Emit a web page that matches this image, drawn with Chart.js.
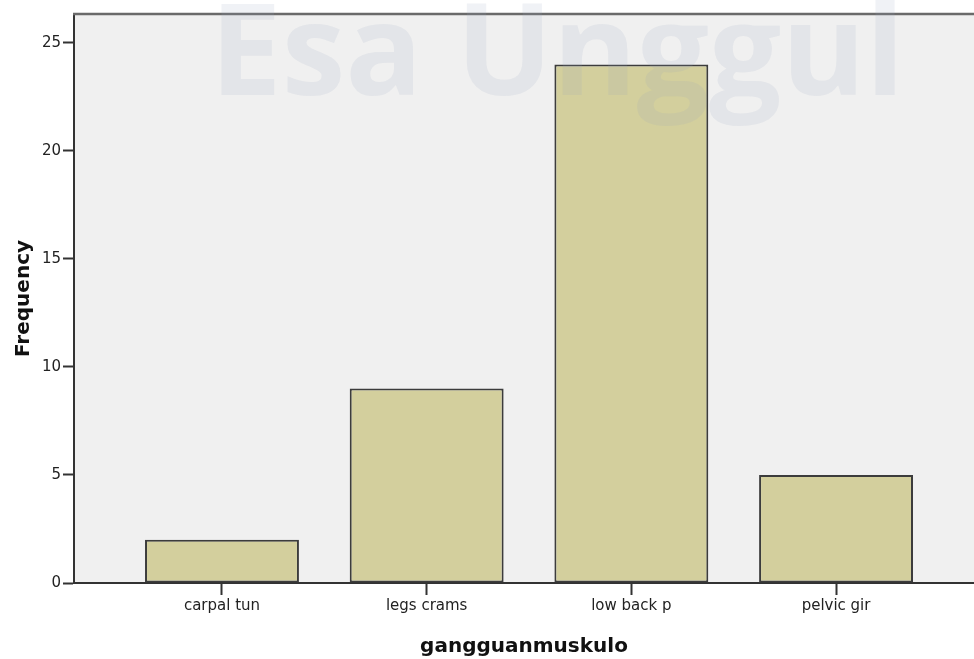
<!DOCTYPE html>
<html>
<head>
<meta charset="utf-8">
<script src="https://cdn.jsdelivr.net/npm/chart.js@4/dist/chart.umd.min.js"></script>
<style>
  html, body { margin: 0; padding: 0; background: #fff; }
  #wrap { width: 974px; height: 659px; }
</style>
</head>
<body>
<div id="wrap"><canvas id="chart" width="974" height="659"></canvas></div>
<script>
const categories = ["carpal tun", "legs crams", "low back p", "pelvic gir"];
const frequencies = [2, 9, 24, 5];
const yTicks = [0, 5, 10, 15, 20, 25];
const xTitle = "gangguanmuskulo";
const yTitle = "Frequency";
const watermark = "Esa Unggul";

const tickFont = { family: "'DejaVu Sans', sans-serif", size: 15 };
const titleFont = { family: "'DejaVu Sans', sans-serif", size: 20, weight: "bold", lineHeight: 1.2 };

const plotBackground = {
  id: "plotBackground",
  beforeDraw(chart) {
    const { ctx, chartArea } = chart;
    ctx.save();
    ctx.fillStyle = "#ffffff";
    ctx.fillRect(0, 0, chart.width, chart.height);
    ctx.fillStyle = "#f0f0f0";
    ctx.fillRect(chartArea.left, chartArea.top, chartArea.right - chartArea.left, chartArea.bottom - chartArea.top);
    ctx.restore();
  },
  afterDraw(chart) {
    const { ctx, chartArea } = chart;
    ctx.save();
    // frame line on top of the plot
    ctx.strokeStyle = "#6a6a6a";
    ctx.lineWidth = 2.5;
    ctx.beginPath();
    ctx.moveTo(chartArea.left - 1, chartArea.top);
    ctx.lineTo(chartArea.right, chartArea.top);
    ctx.stroke();
    // faint page watermark
    ctx.fillStyle = "rgba(150, 165, 190, 0.14)";
    ctx.font = "bold 128px 'Open Sans', sans-serif";
    ctx.textBaseline = "alphabetic";
    ctx.textAlign = "left";
    ctx.fillText(watermark, 210, 95, 703);
    ctx.restore();
  },
};

new Chart(document.getElementById("chart"), {
  type: "bar",
  data: {
    datasets: [{
      label: yTitle,
      data: categories.map((name, i) => ({ x: i + 1, y: frequencies[i] })),
      backgroundColor: "#d3cf9d",
      borderColor: "#3c3c3c",
      borderWidth: 2,
      borderSkipped: false,
      categoryPercentage: 1,
      barPercentage: 0.752,
    }],
  },
  options: {
    responsive: false,
    animation: false,
    layout: { padding: { top: 14, left: 0, right: 0, bottom: 0 } },
    plugins: { legend: { display: false }, tooltip: { enabled: false } },
    scales: {
      x: {
        type: "linear",
        offset: false,
        min: 0.277,
        max: 4.674,
        afterFit: (scale) => { scale.height = 76; },
        afterBuildTicks: (scale) => { scale.ticks = categories.map((c, i) => ({ value: i + 1 })); },
        grid: { offset: false, drawOnChartArea: false, drawTicks: true, tickLength: 12, tickWidth: 2, tickColor: "#333" },
        border: { display: true, color: "#333", width: 2 },
        ticks: { font: tickFont, color: "#222", padding: 2, maxRotation: 0, autoSkip: false,
                 callback: (value) => categories[value - 1] },
        title: { display: true, text: xTitle, font: titleFont, color: "#111", padding: { top: 0, bottom: 0 } },
      },
      y: {
        min: 0,
        max: 26.34,
        afterFit: (scale) => { scale.width = 74; },
        afterBuildTicks: (scale) => { scale.ticks = yTicks.map((v) => ({ value: v })); },
        grid: { drawOnChartArea: false, drawTicks: true, tickLength: 11, tickWidth: 2, tickColor: "#333" },
        border: { display: true, color: "#333", width: 2 },
        ticks: { font: tickFont, color: "#222", padding: 2 },
        title: { display: true, text: yTitle, font: titleFont, color: "#111", padding: { top: 12, bottom: 0 } },
      },
    },
  },
  plugins: [plotBackground],
});
</script>
</body>
</html>
